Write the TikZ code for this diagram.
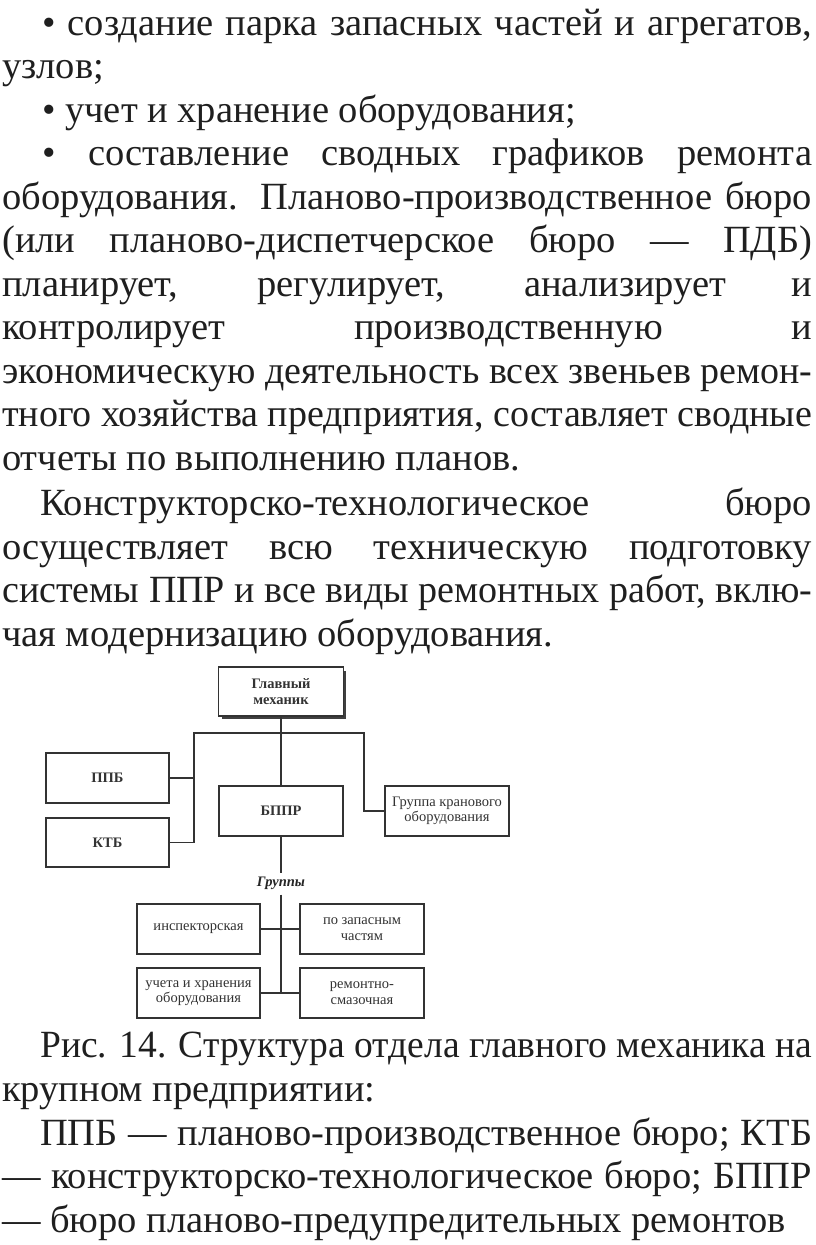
\documentclass[tikz,border=0pt]{standalone}
\usepackage{fontspec}
\setmainfont{Liberation Serif}
\newcommand\jline[2]{\setbox0=\hbox{#2}\ifdim\wd0>#1\relax\resizebox{#1}{\height}{#2}\else\makebox[#1][s]{#2}\fi}
\begin{document}
\begin{tikzpicture}[x=1pt,y=-1pt,
  txt/.style={anchor=base west, inner sep=0pt, text=black!88, font=\fontsize{38.5}{43.5}\selectfont},
  box/.style={draw=black!80, line width=1.4pt, fill=white, minimum width=123pt, minimum height=50pt, inner sep=1pt, align=center, text=black!80, font=\fontsize{14.5}{15.5}\selectfont},
  conn/.style={draw=black!80, line width=1.3pt}
]
\useasboundingbox (0,0) rectangle (816,1245);
\fill[white] (0,0) rectangle (816,1245);
% ---------- body text ----------
\node[txt] (t1) at (42,35) {\jline{770pt}{• создание парка запасных частей и агрегатов,}};
\node[txt] (t2) at (2,78.5) {узлов;};
\node[txt] (t3) at (42,122) {• учет и хранение оборудования;};
\node[txt] (t4) at (42,165.5) {\jline{770pt}{• составление сводных графиков ремонта}};
\node[txt] (t5) at (2,209) {\jline{810pt}{оборудования. Планово-производственное бюро}};
\node[txt] (t6) at (2,252.5) {\jline{810pt}{(или планово-диспетчерское бюро — ПДБ)}};
\node[txt] (t7) at (2,296) {\jline{810pt}{планирует, регулирует, анализирует и}};
\node[txt] (t8) at (2,339.5) {\jline{810pt}{контролирует производственную и}};
\node[txt] (t9) at (2,383) {\jline{810pt}{экономическую деятельность всех звеньев ремон-}};
\node[txt] (t10) at (2,426.5) {\jline{810pt}{тного хозяйства предприятия, составляет сводные}};
\node[txt] (t11) at (2,470) {отчеты по выполнению планов.};
\node[txt] (t12) at (40,515) {\jline{772pt}{Конструкторско-технологическое бюро}};
\node[txt] (t13) at (2,559) {\jline{810pt}{осуществляет всю техническую подготовку}};
\node[txt] (t14) at (2,602.5) {\jline{810pt}{системы ППР и все виды ремонтных работ, вклю-}};
\node[txt] (t15) at (2,646) {чая модернизацию оборудования.};
% ---------- caption ----------
\node[txt] (c1) at (40,1057) {\jline{772pt}{Рис. 14. Структура отдела главного механика на}};
\node[txt] (c2) at (2,1101) {крупном предприятии:};
\node[txt] (c3) at (40,1145) {\jline{772pt}{ППБ — планово-производственное бюро; КТБ}};
\node[txt] (c4) at (2,1188) {\jline{810pt}{— конструкторско-технологическое бюро; БППР}};
\node[txt] (c5) at (2,1232) {— бюро планово-предупредительных ремонтов};
% ---------- diagram ----------
\fill[black!75] (222,671) rectangle (346,719);
\node[box, minimum width=125pt, minimum height=49pt, font=\fontsize{14.5}{15.5}\selectfont\bfseries] (gm) at (281,691.5) {Главный\\механик};
\node[box, font=\fontsize{14.5}{15.5}\selectfont\bfseries] (ppb) at (107.5,778) {ППБ};
\node[box, minimum height=49pt, font=\fontsize{14.5}{15.5}\selectfont\bfseries] (ktb) at (107.5,842.5) {КТБ};
\node[box, minimum width=124pt, font=\fontsize{14.5}{15.5}\selectfont\bfseries] (bppr) at (281,811) {БППР};
\node[box, minimum width=124pt] (grp) at (447,811) {Группа кранового\\оборудования};
\node[inner sep=0pt, text=black!85, font=\fontsize{14.5}{15}\selectfont\bfseries\itshape] (grl) at (281,883) {Группы};
\node[box] (insp) at (198.5,929) {инспекторская};
\node[box, minimum width=124pt] (zap) at (362,929) {по запасным\\частям};
\node[box] (uch) at (198.5,993) {учета и хранения\\оборудования};
\node[box, minimum width=124pt] (rem) at (362,993) {ремонтно-\\смазочная};
\coordinate (busL) at (194,733);
\coordinate (busR) at (364,733);
\coordinate (gbot) at (281,993);
\draw[conn] (gm.south) -- (bppr.north);
\draw[conn] (ktb.east) -| (busL) -- (busR) |- (grp.west);
\draw[conn] (ppb.east) -- (ppb.east -| busL);
\draw[conn] (bppr.south) -- ([yshift=3pt]grl.north);
\draw[conn] ([yshift=-5pt]grl.south) -- (gbot);
\draw[conn] (insp.east) -- (zap.west);
\draw[conn] (uch.east) -- (rem.west);
\end{tikzpicture}
\end{document}
